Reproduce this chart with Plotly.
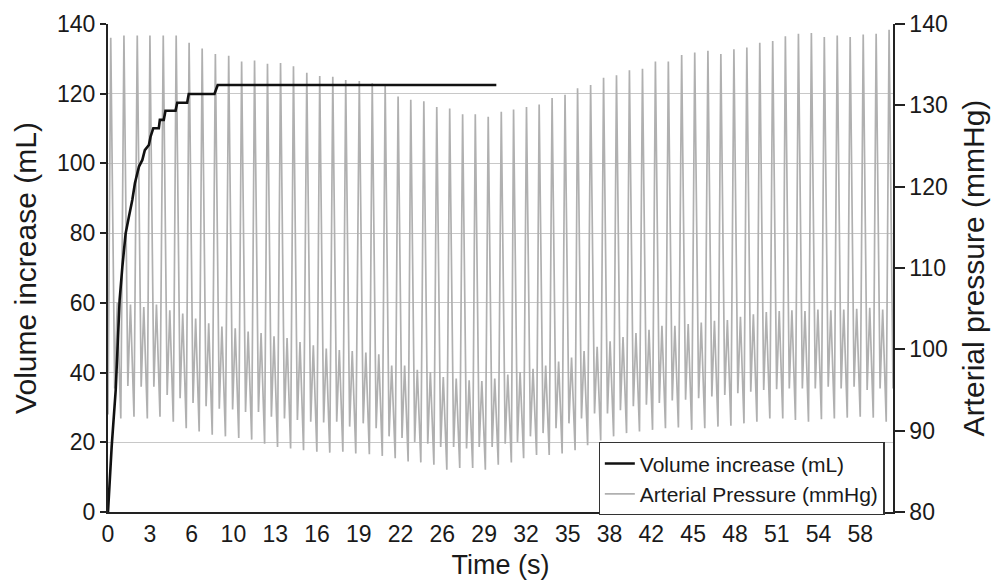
import plotly.graph_objects as go

# ---------------- data ----------------
# Volume increase (mL) vs time (s)
vol_t = [0.0, 0.28, 0.59, 0.72, 0.89, 1.10, 1.35, 1.60, 1.86, 2.06, 2.37, 2.63, 2.82,
         3.13, 3.26, 3.47, 3.89, 3.97, 4.27, 4.40, 5.17, 5.30, 6.06, 6.18, 8.15, 8.40, 29.73]
vol_v = [0.0, 18.7, 35.0, 47.4, 60.8, 70.4, 79.9, 84.7, 89.5, 94.3, 99.1, 101.0, 103.8,
         105.3, 107.7, 110.1, 110.1, 112.5, 112.5, 115.1, 115.1, 117.4, 117.4, 119.9, 119.9, 122.5, 122.5]

# Arterial pressure: one entry per heart beat
beat_t = [0.21, 1.22, 2.24, 3.21, 4.23, 5.22, 6.21, 7.21, 8.22, 9.24,
          10.23, 11.22, 12.21, 13.21, 14.20, 15.22, 16.21, 17.21, 18.20, 19.24,
          20.23, 21.22, 22.21, 23.18, 24.18, 25.17, 26.16, 27.15, 28.12, 29.11,
          30.11, 31.05, 32.04, 33.01, 34.00, 34.99, 35.95, 36.95, 37.94, 38.93,
          39.92, 40.92, 41.91, 42.90, 43.92, 44.92, 45.93, 46.92, 47.92, 48.91,
          49.90, 50.89, 51.86, 52.86, 53.85, 54.84, 55.83, 56.82, 57.82, 58.81,
          59.80]
systolic = [138.3, 138.6, 138.6, 138.6, 138.6, 138.6, 137.7, 137.0, 136.3, 136.1,
            135.4, 135.5, 135.1, 135.2, 134.8, 134.0, 133.6, 133.5, 133.1, 133.0,
            132.7, 132.5, 131.1, 130.7, 130.5, 129.8, 129.6, 128.9, 128.9, 128.6,
            129.2, 129.5, 129.8, 130.1, 130.9, 131.3, 132.1, 132.5, 133.4, 133.7,
            134.3, 134.5, 135.4, 135.4, 136.2, 136.5, 136.7, 136.3, 136.9, 137.1,
            137.7, 137.9, 138.5, 138.8, 138.9, 138.4, 138.6, 138.4, 138.7, 138.8,
            139.3]
notch = [95.2, 95.5, 95.4, 95.4, 94.4, 94.0, 93.4, 93.0, 92.7, 92.6,
         92.3, 92.3, 91.7, 91.5, 91.3, 91.1, 91.0, 91.1, 90.5, 90.9,
         90.3, 89.3, 89.1, 88.6, 88.4, 88.0, 88.0, 87.8, 88.0, 88.0,
         88.4, 88.6, 89.3, 89.7, 90.3, 90.9, 91.5, 92.1, 92.1, 92.5,
         93.0, 93.2, 93.4, 93.7, 93.8, 94.0, 94.2, 94.4, 94.6, 94.8,
         95.0, 95.1, 95.2, 95.2, 95.2, 95.4, 95.2, 95.4, 95.0, 95.2,
         95.2]
dicrotic = [105.7, 105.5, 105.2, 105.5, 104.8, 104.4, 103.8, 103.2, 102.8, 102.6,
            102.2, 102.0, 101.6, 101.4, 100.9, 100.5, 100.1, 99.9, 99.8, 99.6,
            99.4, 98.0, 98.0, 97.5, 97.2, 96.6, 96.4, 96.2, 96.1, 96.4,
            96.9, 97.2, 97.6, 98.0, 98.5, 99.0, 99.8, 100.3, 101.0, 101.5,
            102.0, 102.4, 102.9, 102.9, 103.1, 103.3, 103.5, 103.6, 104.0, 104.3,
            104.6, 104.7, 104.8, 104.7, 104.9, 104.8, 104.9, 105.0, 105.1, 104.9,
            105.0]
diastolic = [91.5, 91.7, 91.5, 91.7, 91.1, 90.3, 89.9, 89.5, 89.3, 89.1,
             88.9, 88.4, 88.0, 87.8, 87.6, 87.4, 87.3, 87.4, 87.2, 87.1,
             86.9, 86.6, 86.2, 86.1, 85.8, 85.2, 85.4, 85.4, 85.2, 85.8,
             86.1, 86.6, 87.0, 87.0, 87.2, 87.6, 88.2, 88.8, 89.3, 89.7,
             89.9, 90.1, 90.3, 90.4, 90.1, 90.3, 90.5, 90.6, 90.9, 91.1,
             91.5, 91.5, 91.3, 91.1, 91.4, 91.5, 91.6, 91.7, 91.6, 91.1,
             91.5]
start_pressure = 92.0
# delay (s) of each waveform feature after the systolic peak
notch_delay, dicrotic_delay, diastolic_delay = 0.30, 0.50, 0.77

x_tick_vals = [0, 3.2, 6.4, 9.6, 12.8, 16.0, 19.2, 22.4, 25.6, 28.8, 32.0, 35.2,
               38.4, 41.6, 44.8, 48.0, 51.2, 54.4, 57.6]
x_tick_text = ["0", "3", "6", "10", "13", "16", "19", "22", "26", "29", "32", "35",
               "38", "42", "45", "48", "51", "54", "58"]

# ---------------- build the pressure polyline ----------------
p_t = [0.0]
p_v = [start_pressure]
for t0, s, n, d, m in zip(beat_t, systolic, notch, dicrotic, diastolic):
    p_t += [t0, t0 + notch_delay, t0 + dicrotic_delay, t0 + diastolic_delay]
    p_v += [s, n, d, m]

FONT = "Liberation Sans, Arial, sans-serif"
INK = "#1a1a1a"

fig = go.Figure()
fig.add_trace(go.Scatter(
    x=p_t, y=p_v, mode="lines", name="Arterial Pressure (mmHg)",
    line=dict(color="#b0b0b0", width=1.7), yaxis="y", legendrank=2))
fig.add_trace(go.Scatter(
    x=vol_t, y=vol_v, mode="lines", name="Volume increase (mL)",
    line=dict(color="#111111", width=2.6), yaxis="y2", legendrank=1))

fig.update_layout(
    width=1001, height=580, autosize=False,
    margin=dict(l=108, r=108, t=24, b=68),
    paper_bgcolor="white", plot_bgcolor="white",
    font=dict(family=FONT, color=INK, size=23),
    showlegend=True,
    legend=dict(x=0.625, y=0.143, xanchor="left", yanchor="top",
                bgcolor="white", bordercolor="#333333", borderwidth=1.2,
                font=dict(family=FONT, size=21, color=INK),
                tracegroupgap=0),
    xaxis=dict(range=[0, 60.1], tickmode="array", tickvals=x_tick_vals,
               ticktext=x_tick_text, showgrid=False, zeroline=False,
               showline=True, linecolor="#222222", linewidth=2, ticks="",
               tickfont=dict(size=23), automargin=False,
               title=dict(text="Time (s)", font=dict(size=27), standoff=10)),
    yaxis=dict(range=[80, 140], dtick=10, side="right", showgrid=False,
               zeroline=False, showline=True, linecolor="#222222", linewidth=1.5,
               ticks="outside", ticklen=10, tickcolor="#222222", tickwidth=1.5,
               tickfont=dict(size=23), automargin=False,
               title=dict(text="Arterial pressure (mmHg)", font=dict(size=30), standoff=16)),
    yaxis2=dict(range=[0, 140], dtick=20, side="left", overlaying="y",
                showgrid=True, gridcolor="#c8c8c8", gridwidth=1,
                zeroline=False, showline=True, linecolor="#222222", linewidth=2,
                ticks="outside", ticklen=6, tickcolor="#222222", tickwidth=1.5,
                tickfont=dict(size=23), automargin=False,
                title=dict(text="Volume increase (mL)", font=dict(size=30), standoff=12)),
)

fig.write_html("out.html")
